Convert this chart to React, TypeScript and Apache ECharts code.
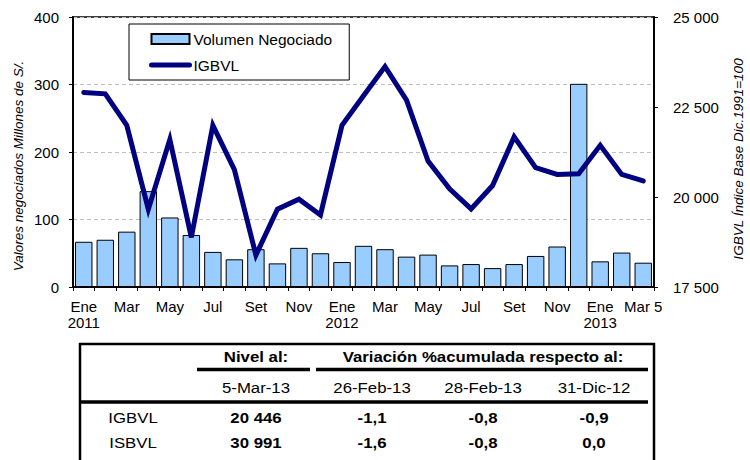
import React, { useEffect, useRef } from "react";
import * as echarts from "echarts";

// ---- Data ----
const categories = [
  "Ene-11", "Feb-11", "Mar-11", "Abr-11", "May-11", "Jun-11", "Jul-11", "Ago-11", "Set-11", "Oct-11", "Nov-11", "Dic-11",
  "Ene-12", "Feb-12", "Mar-12", "Abr-12", "May-12", "Jun-12", "Jul-12", "Ago-12", "Set-12", "Oct-12", "Nov-12", "Dic-12",
  "Ene-13", "Feb-13", "Mar 5-13",
];
const tickLabels = [
  "Ene\n2011", "", "Mar", "", "May", "", "Jul", "", "Set", "", "Nov", "",
  "Ene\n2012", "", "Mar", "", "May", "", "Jul", "", "Set", "", "Nov", "",
  "Ene\n2013", "", "Mar 5",
];
const volumen = [
  67, 70, 82, 142, 103, 77, 52, 41, 56, 35, 58, 50,
  37, 61, 56, 45, 48, 32, 34, 28, 34, 46, 60, 301,
  38, 51, 36,
];
const igbvl = [
  22904, 22866, 21991, 19661, 21599, 18879, 21991, 20761, 18385, 19661, 19941, 19503,
  21991, 22811, 23623, 22692, 20999, 20226, 19668, 20319, 21669, 20813, 20626, 20645,
  21436, 20626, 20446,
];

const seriesNames = ["Volumen Negociado", "IGBVL"];
const leftAxisTitle = "Valores negociados Millones de S/.";
const rightAxisTitle = "IGBVL Índice Base Dic.1991=100";

// ---- Table ----
const tableHeader1 = ["Nivel al:", "Variación %acumulada respecto al:"];
const tableDates = ["5-Mar-13", "26-Feb-13", "28-Feb-13", "31-Dic-12"];
const tableRowNames = ["IGBVL", "ISBVL"];
const tableIGBVL = ["20 446", "-1,1", "-0,8", "-0,9"];
const tableISBVL = ["30 991", "-1,6", "-0,8", "0,0"];

const FONT = "'Liberation Sans', Arial, Helvetica, sans-serif";

function fmtThousands(v: number): string {
  return String(Math.round(v)).replace(/\B(?=(\d{3})+(?!\d))/g, " ");
}

export default function App() {
  const ref = useRef<HTMLDivElement>(null);

  useEffect(() => {
    if (!ref.current) return;
    const chart = echarts.init(ref.current, undefined, { renderer: "svg" });

    const colX = [256, 372, 483, 594];
    const nameX = 133;
    const rowY = [418, 443];
    const tScale = 1.12;

    const tText = (text: string, x: number, y: number, bold: boolean) => ({
      type: "text",
      x,
      y,
      scaleX: tScale,
      style: {
        text,
        fill: "#000",
        font: `${bold ? "bold " : ""}15px ${FONT}`,
        align: "center",
        verticalAlign: "middle",
      },
    });

    const graphics: any[] = [
      {
        type: "text",
        x: 18,
        y: 166,
        rotation: Math.PI / 2,
        style: {
          text: leftAxisTitle,
          fill: "#000",
          font: `italic 13.5px ${FONT}`,
          align: "center",
          verticalAlign: "middle",
        },
      },
      {
        type: "text",
        x: 738,
        y: 159,
        rotation: Math.PI / 2,
        style: {
          text: rightAxisTitle,
          fill: "#000",
          font: `italic 13.5px ${FONT}`,
          align: "center",
          verticalAlign: "middle",
        },
      },
      // table frame
      {
        type: "rect",
        shape: { x: 80, y: 344, width: 574, height: 140 },
        style: { fill: "none", stroke: "#000", lineWidth: 2.5 },
      },
      {
        type: "line",
        shape: { x1: 197, y1: 369.5, x2: 310, y2: 369.5 },
        style: { stroke: "#000", lineWidth: 3.5 },
      },
      {
        type: "line",
        shape: { x1: 316, y1: 369.5, x2: 648, y2: 369.5 },
        style: { stroke: "#000", lineWidth: 3.5 },
      },
      {
        type: "line",
        shape: { x1: 80, y1: 402, x2: 648, y2: 402 },
        style: { stroke: "#000", lineWidth: 3.5 },
      },
      tText(tableHeader1[0], colX[0], 357, true),
      tText(tableHeader1[1], 483, 357, true),
    ];
    tableDates.forEach((d, i) => graphics.push(tText(d, colX[i], 388, false)));
    [tableIGBVL, tableISBVL].forEach((row, r) => {
      graphics.push(tText(tableRowNames[r], nameX, rowY[r], false));
      row.forEach((v, i) => graphics.push(tText(v, colX[i], rowY[r], true)));
    });

    chart.setOption({
      animation: false,
      backgroundColor: "#fff",
      textStyle: { fontFamily: FONT },
      grid: {
        left: 73,
        right: 96,
        top: 17,
        bottom: 173,
        show: true,
        borderColor: "#000",
        borderWidth: 1.5,
        backgroundColor: "transparent",
      },
      legend: {
        left: 129,
        top: 24,
        orient: "vertical",
        borderColor: "#000",
        borderWidth: 1,
        padding: [7, 17, 7, 20],
        itemGap: 10,
        itemWidth: 38,
        itemHeight: 10,
        textStyle: { color: "#000", fontSize: 15.5, fontFamily: FONT, padding: [0, 0, 0, -1] },
        data: [
          { name: seriesNames[0], icon: "rect" },
          {
            name: seriesNames[1],
            lineStyle: { width: 5, cap: "round", color: "#000080" },
            itemStyle: { opacity: 0 },
          },
        ],
      },
      xAxis: {
        type: "category",
        data: categories,
        boundaryGap: true,
        axisLine: { lineStyle: { color: "#000", width: 2 } },
        axisTick: { show: true, interval: 0, length: 4, lineStyle: { color: "#000", width: 1 } },
        axisLabel: {
          interval: 0,
          color: "#000",
          fontSize: 15,
          fontFamily: FONT,
          margin: 11,
          lineHeight: 16,
          formatter: (_v: string, i: number) => tickLabels[i],
        },
      },
      yAxis: [
        {
          type: "value",
          min: 0,
          max: 400,
          interval: 100,
          position: "left",
          axisLine: { show: true, lineStyle: { color: "#000", width: 2 } },
          axisTick: { show: true, length: 4, lineStyle: { color: "#000" } },
          axisLabel: { color: "#000", fontSize: 15, fontFamily: FONT, margin: 14 },
          splitLine: { show: true, lineStyle: { color: "#BFBFBF", width: 1, type: [4, 3] } },
        },
        {
          type: "value",
          min: 17500,
          max: 25000,
          interval: 2500,
          position: "right",
          axisLine: { show: true, lineStyle: { color: "#000", width: 2 } },
          axisTick: { show: true, length: 4, lineStyle: { color: "#000" } },
          axisLabel: {
            color: "#000",
            fontSize: 15,
            fontFamily: FONT,
            margin: 19,
            formatter: (v: number) => fmtThousands(v),
          },
          splitLine: { show: false },
        },
      ],
      series: [
        {
          name: seriesNames[0],
          type: "bar",
          data: volumen,
          yAxisIndex: 0,
          barCategoryGap: "19%",
          itemStyle: { color: "#99CCFF", borderColor: "#000", borderWidth: 1 },
        },
        {
          name: seriesNames[1],
          type: "line",
          data: igbvl,
          yAxisIndex: 1,
          symbol: "none",
          showSymbol: false,
          z: 5,
          lineStyle: { color: "#000080", width: 5, cap: "round", join: "miter" },
          itemStyle: { color: "#000080" },
        },
      ],
      graphic: graphics,
    });

    return () => chart.dispose();
  }, []);

  return (
    <div
      ref={ref}
      style={{ position: "fixed", left: 0, top: 0, width: 750, height: 460, background: "#fff" }}
    />
  );
}
